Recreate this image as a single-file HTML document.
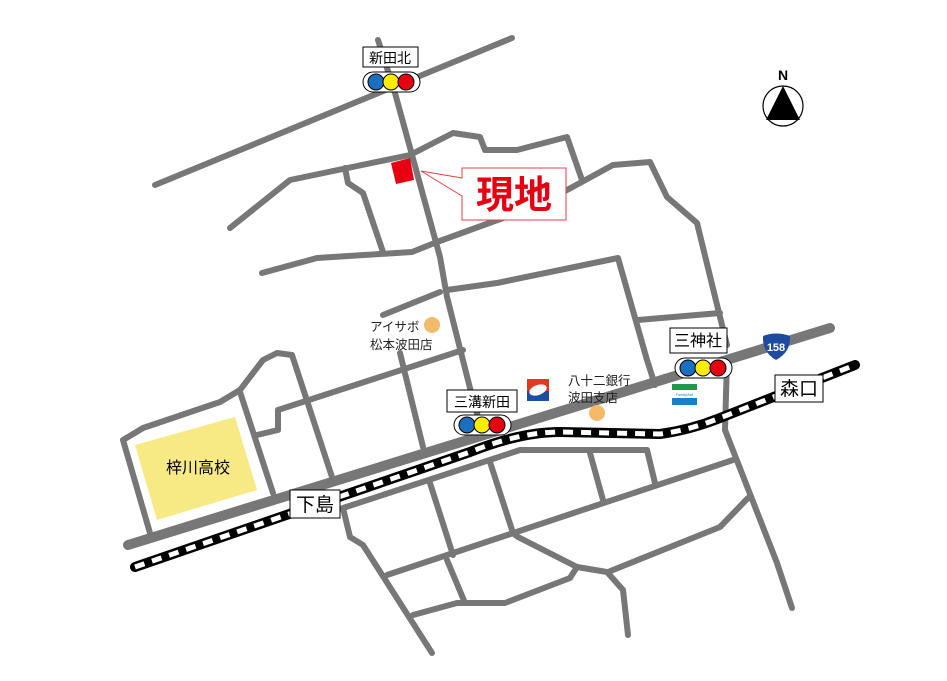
<!DOCTYPE html>
<html><head><meta charset="utf-8"><style>
html,body{margin:0;padding:0;background:#fff;}
svg{display:block;}
text{font-family:"Liberation Sans","Noto Sans CJK JP",sans-serif;}
</style></head><body>
<svg width="947" height="681" viewBox="0 0 947 681" xmlns="http://www.w3.org/2000/svg">
<rect width="947" height="681" fill="#fff"/>
<!-- school -->
<polygon points="135,445 235,417 257,490 157,520" fill="#f7ea85"/>
<g fill="none" stroke="#777" stroke-width="6" stroke-linejoin="round" stroke-linecap="round">
<!-- top roads -->
<polyline points="155,185 512,38"/>
<polyline points="378,40 395,93 440,257 447,297 473,400 482,430"/>
<polyline points="490,462 513,533"/>
<polyline points="230,228 290,180 410,155 453,133 480,137 485,150 517,150 567,137 582,180"/>
<polyline points="345,168 348,183 363,193 383,252"/>
<polyline points="262,273 317,258 412,252 437,242 503,218 567,190 613,165 650,162 667,197 697,223 720,317 727,345"/>
<polyline points="727,360 725,430 777,563 792,608"/>
<polyline points="447,290 497,283 618,258 647,360 655,385"/>
<polyline points="638,320 720,313"/>
<polyline points="383,315 440,292"/>
<!-- left -->
<polyline points="150,533 123,440 143,428 220,402 240,390 263,360 277,353 292,355 332,477"/>
<polyline points="240,392 273,493"/>
<polyline points="257,435 278,430 278,410 463,350"/>
<polyline points="400,353 423,447"/>
<!-- south -->
<polyline points="432,653 363,545 350,537 343,508 520,450 647,450 655,483"/>
<polyline points="590,453 603,500"/>
<polyline points="387,575 733,460"/>
<polyline points="413,615 457,603 505,603 570,578 577,567"/>
<polyline points="513,533 518,537 577,567 607,572 623,590 628,635"/>
<polyline points="447,560 465,603"/>
<polyline points="430,483 453,555"/>
<polyline points="608,572 720,527 748,498"/>
</g>
<!-- thick road -->
<line x1="128" y1="545" x2="830" y2="328" stroke="#777" stroke-width="10" stroke-linecap="round"/>
<!-- railway -->
<path d="M135,567 L330,500 L470,452 Q520,432 560,432 L660,434 Q690,430 720,418 L855,365" fill="none" stroke="#000" stroke-width="10" stroke-linecap="round"/>
<path d="M135,567 L330,500 L470,452 Q520,432 560,432 L660,434 Q690,430 720,418 L855,365" fill="none" stroke="#fff" stroke-width="5" stroke-dasharray="10,8"/>
<!-- 現地 -->
<polygon points="391,163 410,158 414,180 396,184" fill="#e60012"/>
<polygon points="421,171 462,178 462,168 566,168 566,220 462,220 462,196" fill="#fff" stroke="#e0404a" stroke-width="1"/>
<text x="514" y="208" font-size="38" font-weight="bold" fill="#e60012" text-anchor="middle">現地</text>
<!-- labels boxes -->
<g stroke="#000" stroke-width="1" fill="#fff">
<rect x="363" y="47" width="55" height="20"/>
<rect x="447" y="390" width="70" height="22"/>
<rect x="670" y="328" width="57" height="25"/>
<rect x="775" y="375" width="48" height="27"/>
<rect x="290" y="490" width="50" height="28"/>
</g>
<g font-size="14" text-anchor="middle" fill="#000">
<text x="390" y="63">新田北</text>
<text x="482" y="407">三溝新田</text>
<text x="698" y="346" font-size="16">三神社</text>
<text x="799" y="395" font-size="19">森口</text>
<text x="315" y="511" font-size="19">下島</text>
<text x="198" y="473" font-size="16">梓川高校</text>
</g>
<g font-size="12.5" fill="#222">
<text x="370" y="331">アイサボ</text>
<text x="370" y="349">松本波田店</text>
<text x="568" y="385">八十二銀行</text>
<text x="568" y="402">波田支店</text>
</g>
<circle cx="432" cy="325" r="8" fill="#f5b96a"/>
<circle cx="597" cy="413" r="8" fill="#f5b96a"/>
<!-- traffic lights -->
<g stroke="#000" stroke-width="1">
<rect x="363" y="72" width="57" height="20" rx="10" fill="#fff"/>
<circle cx="376" cy="82" r="8" fill="#1a6fc0"/><circle cx="391" cy="82" r="8" fill="#ffec00"/><circle cx="406" cy="82" r="8" fill="#e60012"/>
<rect x="454" y="415" width="57" height="20" rx="10" fill="#fff"/>
<circle cx="467" cy="425" r="8" fill="#1a6fc0"/><circle cx="482" cy="425" r="8" fill="#ffec00"/><circle cx="497" cy="425" r="8" fill="#e60012"/>
<rect x="675" y="358" width="57" height="20" rx="10" fill="#fff"/>
<circle cx="688" cy="368" r="8" fill="#1a6fc0"/><circle cx="703" cy="368" r="8" fill="#ffec00"/><circle cx="718" cy="368" r="8" fill="#e60012"/>
</g>
<!-- logos -->
<rect x="527" y="379" width="22" height="22" fill="#1c4fa0"/>
<rect x="527" y="379" width="22" height="12" fill="#e03a1e"/>
<ellipse cx="538" cy="390" rx="9" ry="5" fill="#fff" transform="rotate(-20 538 390)"/>
<rect x="672" y="384" width="25" height="6" fill="#1a9a4a"/>
<rect x="672" y="390" width="25" height="8" fill="#fff"/>
<rect x="672" y="398" width="25" height="7" fill="#1a7fc8"/>
<text x="684.5" y="396" font-size="3.5" text-anchor="middle" fill="#1a7fc8">FamilyMart</text>
<!-- 158 -->
<path d="M763,336 Q776,331 790,336 Q791,352 776,360 Q762,352 763,336 Z" fill="#1e4ba0"/>
<text x="776" y="351" font-size="11" font-weight="bold" fill="#fff" text-anchor="middle">158</text>
<!-- North -->
<text x="783" y="80" font-size="14" font-weight="bold" text-anchor="middle">N</text>
<circle cx="783" cy="106" r="20" fill="#fff" stroke="#000" stroke-width="1.2"/>
<polygon points="783,86 766,120 800,120" fill="#000"/>
</svg>
</body></html>
